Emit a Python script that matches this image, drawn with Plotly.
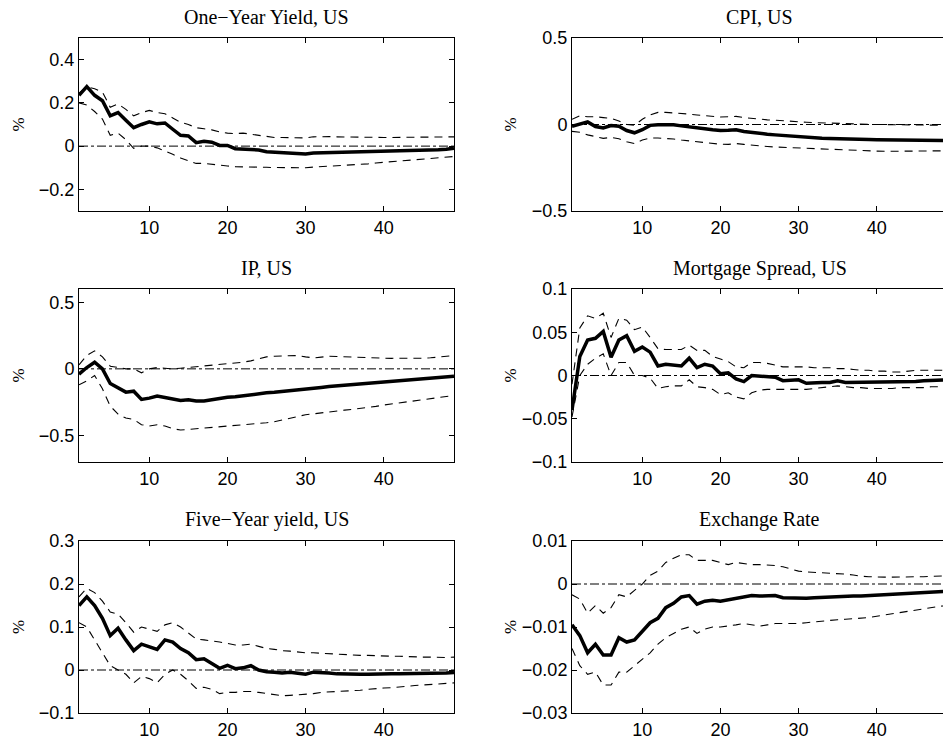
import plotly.graph_objects as go

W, H = 943, 740
horizon = list(range(1, 50))

titles = ["One\u2212Year Yield, US", "CPI, US", "IP, US", "Mortgage Spread, US",
          "Five\u2212Year yield, US", "Exchange Rate"]

# ---- panel 1: One-Year Yield ----
oy_mean = [0.235,0.275,0.235,0.21,0.14,0.155,0.12,0.085,0.1,0.112,0.103,0.107,0.078,0.05,0.047,0.016,0.022,0.018,0.003,0.003,
           -0.012,-0.014,-0.012,-0.018,-0.026,-0.028,-0.028,-0.029,-0.031,-0.036,-0.032,-0.031,-0.03,-0.029,-0.031,-0.031,-0.03,-0.029,-0.028,-0.026,
           -0.025,-0.023,-0.022,-0.021,-0.02,-0.019,-0.017,-0.014,-0.01]
oy_up = [0.245,0.275,0.265,0.25,0.18,0.195,0.17,0.14,0.155,0.165,0.155,0.15,0.13,0.11,0.1,0.085,0.08,0.075,0.066,0.06,
         0.058,0.06,0.055,0.05,0.043,0.04,0.04,0.039,0.038,0.038,0.043,0.045,0.044,0.043,0.042,0.041,0.041,0.04,0.04,0.04,
         0.04,0.04,0.04,0.04,0.041,0.041,0.042,0.042,0.043]
oy_lo = [0.2,0.19,0.16,0.125,0.05,0.06,0.03,-0.01,0.0,0.0,-0.008,-0.022,-0.038,-0.055,-0.068,-0.08,-0.08,-0.085,-0.09,-0.092,
         -0.095,-0.095,-0.096,-0.097,-0.098,-0.099,-0.1,-0.1,-0.1,-0.1,-0.097,-0.095,-0.093,-0.092,-0.09,-0.088,-0.085,-0.082,-0.078,-0.075,
         -0.073,-0.07,-0.067,-0.064,-0.061,-0.058,-0.055,-0.051,-0.048]

# ---- panel 2: CPI ----
cpi_mean = [-0.01,0.005,0.015,-0.012,-0.02,-0.006,-0.01,-0.035,-0.048,-0.03,-0.005,-0.002,-0.001,-0.002,-0.008,-0.012,-0.018,-0.024,-0.03,-0.035,
            -0.033,-0.03,-0.04,-0.047,-0.052,-0.056,-0.06,-0.064,-0.068,-0.072,-0.075,-0.077,-0.079,-0.081,-0.083,-0.084,-0.085,-0.086,-0.087,-0.088,
            -0.089,-0.09,-0.09,-0.09,-0.091,-0.091,-0.092,-0.092,-0.092]
cpi_up = [0.03,0.05,0.045,0.045,0.04,0.035,0.02,0.0,-0.005,0.03,0.055,0.07,0.07,0.068,0.063,0.06,0.055,0.05,0.046,0.043,
          0.045,0.047,0.04,0.035,0.03,0.027,0.025,0.021,0.018,0.015,0.013,0.011,0.009,0.007,0.005,0.004,0.003,0.002,0.001,0.0,
          0.0,0.0,-0.001,-0.001,-0.002,-0.003,-0.004,-0.004,-0.005]
cpi_lo = [-0.04,-0.045,-0.06,-0.07,-0.08,-0.075,-0.082,-0.1,-0.11,-0.09,-0.078,-0.078,-0.08,-0.084,-0.09,-0.095,-0.1,-0.105,-0.11,-0.114,
          -0.115,-0.11,-0.115,-0.12,-0.125,-0.127,-0.13,-0.132,-0.134,-0.136,-0.138,-0.14,-0.142,-0.145,-0.148,-0.15,-0.151,-0.152,-0.153,-0.154,
          -0.155,-0.155,-0.155,-0.155,-0.155,-0.154,-0.153,-0.152,-0.152]

# ---- panel 3: IP ----
ip_mean = [-0.04,0.01,0.05,0.0,-0.11,-0.14,-0.175,-0.168,-0.23,-0.22,-0.205,-0.215,-0.228,-0.237,-0.232,-0.242,-0.242,-0.232,-0.22,-0.214,
           -0.21,-0.202,-0.196,-0.185,-0.18,-0.176,-0.171,-0.166,-0.158,-0.152,-0.147,-0.14,-0.133,-0.128,-0.122,-0.118,-0.114,-0.11,-0.105,-0.1,
           -0.095,-0.09,-0.085,-0.08,-0.075,-0.07,-0.065,-0.06,-0.055]
ip_up = [0.03,0.1,0.135,0.09,0.02,0.01,0.0,0.0,-0.03,0.0,0.01,0.005,0.0,0.005,0.01,0.02,0.025,0.03,0.035,0.04,
         0.045,0.05,0.06,0.075,0.09,0.095,0.095,0.095,0.1,0.09,0.082,0.088,0.095,0.093,0.09,0.088,0.086,0.085,0.083,0.08,
         0.079,0.078,0.078,0.079,0.08,0.083,0.087,0.093,0.1]
ip_lo = [-0.12,-0.09,-0.05,-0.15,-0.28,-0.34,-0.37,-0.38,-0.42,-0.43,-0.42,-0.43,-0.45,-0.46,-0.455,-0.45,-0.45,-0.445,-0.44,-0.433,
         -0.428,-0.422,-0.418,-0.413,-0.405,-0.398,-0.385,-0.372,-0.358,-0.345,-0.338,-0.33,-0.322,-0.315,-0.31,-0.304,-0.298,-0.292,-0.282,-0.272,
         -0.264,-0.256,-0.248,-0.24,-0.232,-0.224,-0.215,-0.207,-0.2]

# ---- panel 4: Mortgage Spread ----
ms_mean = [-0.04,0.022,0.041,0.043,0.051,0.021,0.041,0.046,0.028,0.033,0.027,0.011,0.013,0.012,0.011,0.02,0.009,0.013,0.011,0.002,
           0.003,-0.004,-0.007,0.0,-0.001,-0.002,-0.002,-0.006,-0.006,-0.005,-0.009,-0.008,-0.008,-0.008,-0.006,-0.008,-0.008,-0.008,-0.008,-0.008,
           -0.007,-0.007,-0.007,-0.007,-0.007,-0.006,-0.006,-0.005,-0.005]
ms_up = [-0.01,0.055,0.069,0.066,0.072,0.044,0.066,0.064,0.053,0.056,0.044,0.031,0.03,0.03,0.03,0.035,0.029,0.029,0.022,0.019,
         0.016,0.01,0.009,0.015,0.015,0.014,0.012,0.01,0.01,0.01,0.01,0.009,0.009,0.009,0.008,0.008,0.007,0.006,0.006,0.005,
         0.005,0.004,0.004,0.005,0.006,0.006,0.006,0.006,0.006]
ms_lo = [-0.048,0.0,0.013,0.02,0.025,0.0,0.015,0.015,0.0,0.0,-0.003,-0.015,-0.013,-0.012,-0.012,-0.005,-0.013,-0.014,-0.016,-0.022,
         -0.02,-0.025,-0.027,-0.02,-0.017,-0.016,-0.016,-0.016,-0.016,-0.016,-0.016,-0.015,-0.014,-0.013,-0.012,-0.013,-0.014,-0.014,-0.015,-0.015,
         -0.015,-0.015,-0.014,-0.014,-0.014,-0.014,-0.013,-0.013,-0.013]

# ---- panel 5: Five-Year yield ----
fy_mean = [0.15,0.17,0.15,0.12,0.08,0.097,0.07,0.045,0.06,0.055,0.048,0.07,0.065,0.05,0.04,0.024,0.026,0.015,0.004,0.011,
           0.003,0.005,0.01,0.0,-0.004,-0.005,-0.007,-0.005,-0.007,-0.01,-0.005,-0.005,-0.007,-0.009,-0.01,-0.01,-0.01,-0.01,-0.009,-0.009,
           -0.009,-0.009,-0.009,-0.009,-0.009,-0.009,-0.008,-0.007,-0.006]
fy_up = [0.17,0.19,0.18,0.16,0.135,0.13,0.11,0.088,0.1,0.095,0.09,0.105,0.11,0.1,0.085,0.072,0.07,0.068,0.065,0.062,
         0.058,0.058,0.06,0.055,0.05,0.048,0.045,0.044,0.042,0.04,0.04,0.039,0.038,0.036,0.035,0.035,0.034,0.034,0.033,0.033,
         0.032,0.032,0.031,0.031,0.03,0.03,0.029,0.029,0.03]
fy_lo = [0.11,0.1,0.07,0.04,0.01,0.0,-0.01,-0.03,-0.015,-0.02,-0.03,-0.01,0.0,-0.01,-0.025,-0.043,-0.04,-0.045,-0.055,-0.052,
         -0.052,-0.05,-0.05,-0.052,-0.055,-0.057,-0.06,-0.059,-0.058,-0.057,-0.055,-0.052,-0.051,-0.05,-0.05,-0.048,-0.047,-0.045,-0.043,-0.042,
         -0.041,-0.04,-0.038,-0.036,-0.035,-0.034,-0.032,-0.031,-0.03]

# ---- panel 6: Exchange Rate ----
er_mean = [-0.0095,-0.012,-0.016,-0.014,-0.0165,-0.0165,-0.0125,-0.0135,-0.013,-0.011,-0.009,-0.008,-0.0055,-0.0045,-0.003,-0.0027,-0.0047,-0.004,-0.0038,-0.004,
           -0.0037,-0.0034,-0.003,-0.0027,-0.0028,-0.0028,-0.0027,-0.0032,-0.0033,-0.0033,-0.0033,-0.0032,-0.0031,-0.003,-0.0028,-0.0028,-0.0028,-0.0028,-0.0027,-0.0027,
           -0.0026,-0.0025,-0.0024,-0.0022,-0.0021,-0.002,-0.0019,-0.0018,-0.0017]
er_up = [-0.0025,-0.0035,-0.0068,-0.005,-0.0068,-0.0055,-0.0025,-0.003,-0.0015,0.0,0.002,0.003,0.005,0.006,0.0068,0.0068,0.0055,0.0055,0.0055,0.005,
         0.0045,0.005,0.0047,0.0045,0.0045,0.0044,0.0043,0.004,0.0035,0.003,0.0028,0.0027,0.0026,0.0026,0.0025,0.0023,0.0021,0.0018,0.0017,0.0016,
         0.0016,0.0016,0.0016,0.0016,0.0016,0.0017,0.0018,0.0018,0.0019]
er_lo = [-0.015,-0.019,-0.021,-0.0205,-0.0235,-0.0235,-0.0205,-0.0205,-0.019,-0.0175,-0.016,-0.014,-0.0125,-0.0115,-0.0105,-0.01,-0.0115,-0.0105,-0.01,-0.01,
         -0.0098,-0.0095,-0.0092,-0.0095,-0.0098,-0.0095,-0.0092,-0.0092,-0.0092,-0.0092,-0.009,-0.0088,-0.0086,-0.0085,-0.0083,-0.0082,-0.0081,-0.008,-0.0078,-0.0075,
         -0.0072,-0.0069,-0.0066,-0.0063,-0.006,-0.0057,-0.0054,-0.0052,-0.005]

x_ticks = [10, 20, 30, 40]
y_ticks = [
    [-0.2, 0, 0.2, 0.4],
    [-0.5, 0, 0.5],
    [-0.5, 0, 0.5],
    [-0.1, -0.05, 0, 0.05, 0.1],
    [-0.1, 0, 0.1, 0.2, 0.3],
    [-0.03, -0.02, -0.01, 0, 0.01],
]
y_tick_text = [
    ["\u22120.2", "0", "0.2", "0.4"],
    ["\u22120.5", "0", "0.5"],
    ["\u22120.5", "0", "0.5"],
    ["\u22120.1", "\u22120.05", "0", "0.05", "0.1"],
    ["\u22120.1", "0", "0.1", "0.2", "0.3"],
    ["\u22120.03", "\u22120.02", "\u22120.01", "0", "0.01"],
]
y_ranges = [[-0.3, 0.5], [-0.5, 0.5], [-0.7, 0.6], [-0.1, 0.1], [-0.1, 0.3], [-0.03, 0.01]]

series = [
    (oy_mean, oy_up, oy_lo), (cpi_mean, cpi_up, cpi_lo), (ip_mean, ip_up, ip_lo),
    (ms_mean, ms_up, ms_lo), (fy_mean, fy_up, fy_lo), (er_mean, er_up, er_lo),
]

# layout geometry (pixels)
left_x = (79, 454)
right_x = (572, 943)
rows_y = [(38, 211), (289, 462), (541, 713)]
title_y = [17, 268, 519]
px_per_unit = (454 - 79) / 48.0
right_xmax = 1 + (943 - 572) / px_per_unit

fig = go.Figure()
layout = dict(width=W, height=H, margin=dict(l=0, r=0, t=0, b=0, autoexpand=False),
              paper_bgcolor="white", plot_bgcolor="white", showlegend=False)
annotations = []
shapes = []

axis_font = dict(family="Liberation Sans, Arial, sans-serif", size=18, color="black")
serif = "Liberation Serif, Times New Roman, serif"

for i, (mean, up, lo) in enumerate(series):
    r, c = divmod(i, 2)
    n = i + 1
    xa = "x" if n == 1 else f"x{n}"
    ya = "y" if n == 1 else f"y{n}"
    xpx = left_x if c == 0 else right_x
    ypx = rows_y[r]
    xdom = [xpx[0] / W, xpx[1] / W]
    ydom = [1 - ypx[1] / H, 1 - ypx[0] / H]
    xrng = [1, 49] if c == 0 else [1, right_xmax]

    layout["xaxis" if n == 1 else f"xaxis{n}"] = dict(
        domain=xdom, range=xrng, anchor=ya, tickvals=x_ticks, automargin=False,
        ticks="inside", ticklen=5, tickwidth=1, tickcolor="black",
        showline=True, linecolor="black", linewidth=1, mirror="ticks",
        showgrid=False, zeroline=False, tickfont=axis_font)
    layout["yaxis" if n == 1 else f"yaxis{n}"] = dict(
        domain=ydom, range=y_ranges[i], anchor=xa, automargin=False,
        tickvals=y_ticks[i], ticktext=y_tick_text[i],
        ticks="inside", ticklen=5, tickwidth=1, tickcolor="black",
        showline=True, linecolor="black", linewidth=1,
        mirror=("ticks" if c == 0 else False),
        showgrid=False, zeroline=False, tickfont=axis_font)

    # zero reference line (dash-dot)
    shapes.append(dict(type="line", xref=f"{xa} domain", yref=ya, x0=0, x1=1, y0=0, y1=0,
                       line=dict(color="black", width=1, dash="dashdot"), layer="below"))

    for band in (up, lo):
        fig.add_trace(go.Scatter(x=horizon, y=band, mode="lines", xaxis=xa, yaxis=ya,
                                 line=dict(color="black", width=1.1, dash="8px,6px")))
    fig.add_trace(go.Scatter(x=horizon, y=mean, mode="lines", xaxis=xa, yaxis=ya,
                             line=dict(color="black", width=3.5)))

    cx = (xpx[0] + (454 if c == 0 else 947)) / 2 / W
    annotations.append(dict(text=titles[i], x=cx, y=1 - title_y[r] / H, xref="paper", yref="paper",
                            xanchor="center", yanchor="middle", showarrow=False,
                            font=dict(family=serif, size=20, color="black")))
    annotations.append(dict(text="%", x=(18 if c == 0 else 510) / W,
                            y=1 - (ypx[0] + ypx[1]) / 2 / H, xref="paper", yref="paper",
                            xanchor="center", yanchor="middle", showarrow=False, textangle=-90,
                            font=dict(family=serif, size=17, color="black")))

layout["annotations"] = annotations
layout["shapes"] = shapes
fig.update_layout(**layout)
fig.write_html("out.html")
